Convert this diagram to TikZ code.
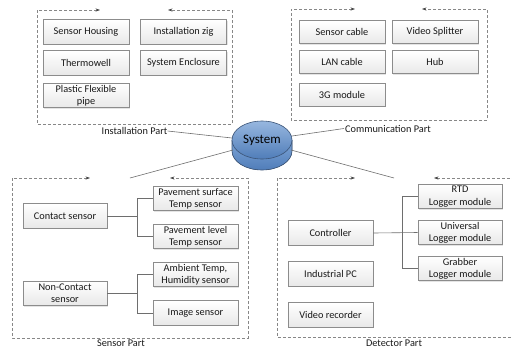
\documentclass[tikz,border=0pt]{standalone}
\usepackage{fontspec}
\setmainfont{Carlito}
\usetikzlibrary{arrows.meta,shadows}
\definecolor{framegray}{RGB}{135,135,135}
\definecolor{boxborder}{RGB}{140,140,140}
\definecolor{linegray}{RGB}{110,110,110}
\definecolor{tipgray}{RGB}{70,70,70}
\definecolor{cyltop}{RGB}{125,165,215}
\definecolor{cylbot}{RGB}{80,125,185}
\definecolor{cylline}{RGB}{60,85,120}
\begin{document}
\begin{tikzpicture}[x=1pt,y=-1pt,
  font=\fontsize{10.3}{12.3}\selectfont,
  box/.style={draw=boxborder, line width=0.6pt, top color=white, bottom color=gray!18,
    minimum width=86pt, minimum height=24.5pt, align=center, inner sep=1pt,
    drop shadow={shadow xshift=1pt, shadow yshift=-1pt, fill=gray!35, opacity=0.6},
    text=black!90},
  tip/.style={Stealth[length=4.5pt,width=3.2pt,color=tipgray]},
  frame/.style={draw=framegray, line width=0.6pt, dash pattern=on 3pt off 2pt,
    {Stealth[length=4.5pt,width=3.2pt,color=tipgray]}-{Stealth[length=4.5pt,width=3.2pt,color=tipgray]}},
  conn/.style={draw=linegray, line width=0.6pt},
  lbl/.style={text=black!90, inner sep=0pt}
]
\useasboundingbox (0,0) rectangle (512,349);
\clip (0,0) rectangle (512,349);

% ---------- Installation part ----------
\draw[frame] (100,10) -- (37,10) -- (37,124) -- (232,124) -- (232,10) -- (168,10);
\node[box] (sh) at (86,32) {Sensor Housing};
\node[box] (iz) at (183.5,32) {Installation zig};
\node[box] (tw) at (86,63) {Thermowell};
\node[box] (se) at (183.5,63) {System Enclosure};
\node[box] (pf) at (86,95.5) {Plastic Flexible\\pipe};
\node[lbl, anchor=west] (instlbl) at (101.5,131) {Installation Part};

% ---------- Communication part ----------
\draw[frame] (355,9) -- (291,9) -- (291,120) -- (487,120) -- (487,9) -- (422,9);
\node[box, minimum height=23pt] (sc) at (342,32) {Sensor cable};
\node[box, minimum height=23pt] (vs) at (435,32) {Video Splitter};
\node[box, minimum height=23pt] (lan) at (342,62) {LAN cable};
\node[box, minimum height=23pt] (hub) at (435,62) {Hub};
\node[box, minimum height=23pt] (g3) at (342,94.5) {3G module};
\node[lbl, anchor=west] (comlbl) at (345,128.5) {Communication Part};

% ---------- Sensor part ----------
\draw[frame] (90,178) -- (12,178) -- (12,338) -- (248,338) -- (248,178) -- (170,178);
\node[box, minimum width=84pt] (cs) at (65,216) {Contact sensor};
\node[box, minimum width=84pt] (ncs) at (65,293.5) {Non-Contact\\sensor};
\node[box, minimum width=85pt] (ps) at (195.5,198.5) {Pavement surface\\Temp sensor};
\node[box, minimum width=85pt] (pl) at (195.5,236.5) {Pavement level\\Temp sensor};
\node[box, minimum width=85pt] (at) at (195.5,274.5) {Ambient Temp,\\Humidity sensor};
\node[box, minimum width=85pt] (is) at (195.5,313) {Image sensor};
\node[lbl] (senlbl) at (121,343) {Sensor Part};
\coordinate (j1) at (137,216);
\coordinate (j2) at (137,293.5);
\draw[conn] (cs.east) -- (j1);
\draw[conn] (ps.west) -- (ps.west -| j1) -- (pl.west -| j1) -- (pl.west);
\draw[conn] (ncs.east) -- (j2);
\draw[conn] (at.west) -- (at.west -| j2) -- (is.west -| j2) -- (is.west);

% ---------- Detector part ----------
\draw[frame] (355,178) -- (277,178) -- (277,337) -- (530,337);
\draw[draw=framegray, line width=0.6pt, dash pattern=on 3pt off 2pt,
  {Stealth[length=4.5pt,width=3.2pt,color=tipgray]}-] (434,178) -- (530,178);
\node[box, minimum width=85pt] (ctl) at (330.5,233) {Controller};
\node[box, minimum width=85pt] (ipc) at (330.5,274) {Industrial PC};
\node[box, minimum width=85pt] (vr) at (330.5,315) {Video recorder};
\node[box, minimum width=84pt] (rtd) at (460,196.5) {RTD\\Logger module};
\node[box, minimum width=84pt] (uni) at (460,232.5) {Universal\\Logger module};
\node[box, minimum width=84pt] (grb) at (460,268.5) {Grabber\\Logger module};
\node[lbl] (detlbl) at (394,343) {Detector Part};
\coordinate (j3) at (402,232.5);
\draw[conn] (ctl.east) -- (uni.west);
\draw[conn] (rtd.west) -- (rtd.west -| j3) -- (grb.west -| j3) -- (grb.west);

% ---------- System cylinder ----------
\fill[top color=cyltop, bottom color=cylbot] (232,140) -- (232,151)
  arc[start angle=180, end angle=0, x radius=30, y radius=19] -- (292,140) -- cycle;
\draw[cylline, line width=0.6pt] (232,140) -- (232,151)
  arc[start angle=180, end angle=0, x radius=30, y radius=19] -- (292,140);
\draw[cylline, line width=0.6pt, top color=cyltop!80!white, bottom color=cylbot]
  (262,140) ellipse[x radius=30, y radius=19];
\node[inner sep=0pt, font=\fontsize{13}{15}\selectfont] (sys) at (262,140) {System};
\coordinate (sysUL) at (232,138);
\coordinate (sysUR) at (292,136);
\coordinate (sysLL) at (233,150);
\coordinate (sysLR) at (291,150);
\coordinate (senTop) at (130,178);
\coordinate (detTop) at (394,178);

\draw[conn] (sysUL) -- (instlbl.east);
\draw[conn] (sysUR) -- ([xshift=-1pt]comlbl.west);
\draw[conn] (sysLL) -- (senTop);
\draw[conn] (sysLR) -- (detTop);
\end{tikzpicture}
\end{document}
